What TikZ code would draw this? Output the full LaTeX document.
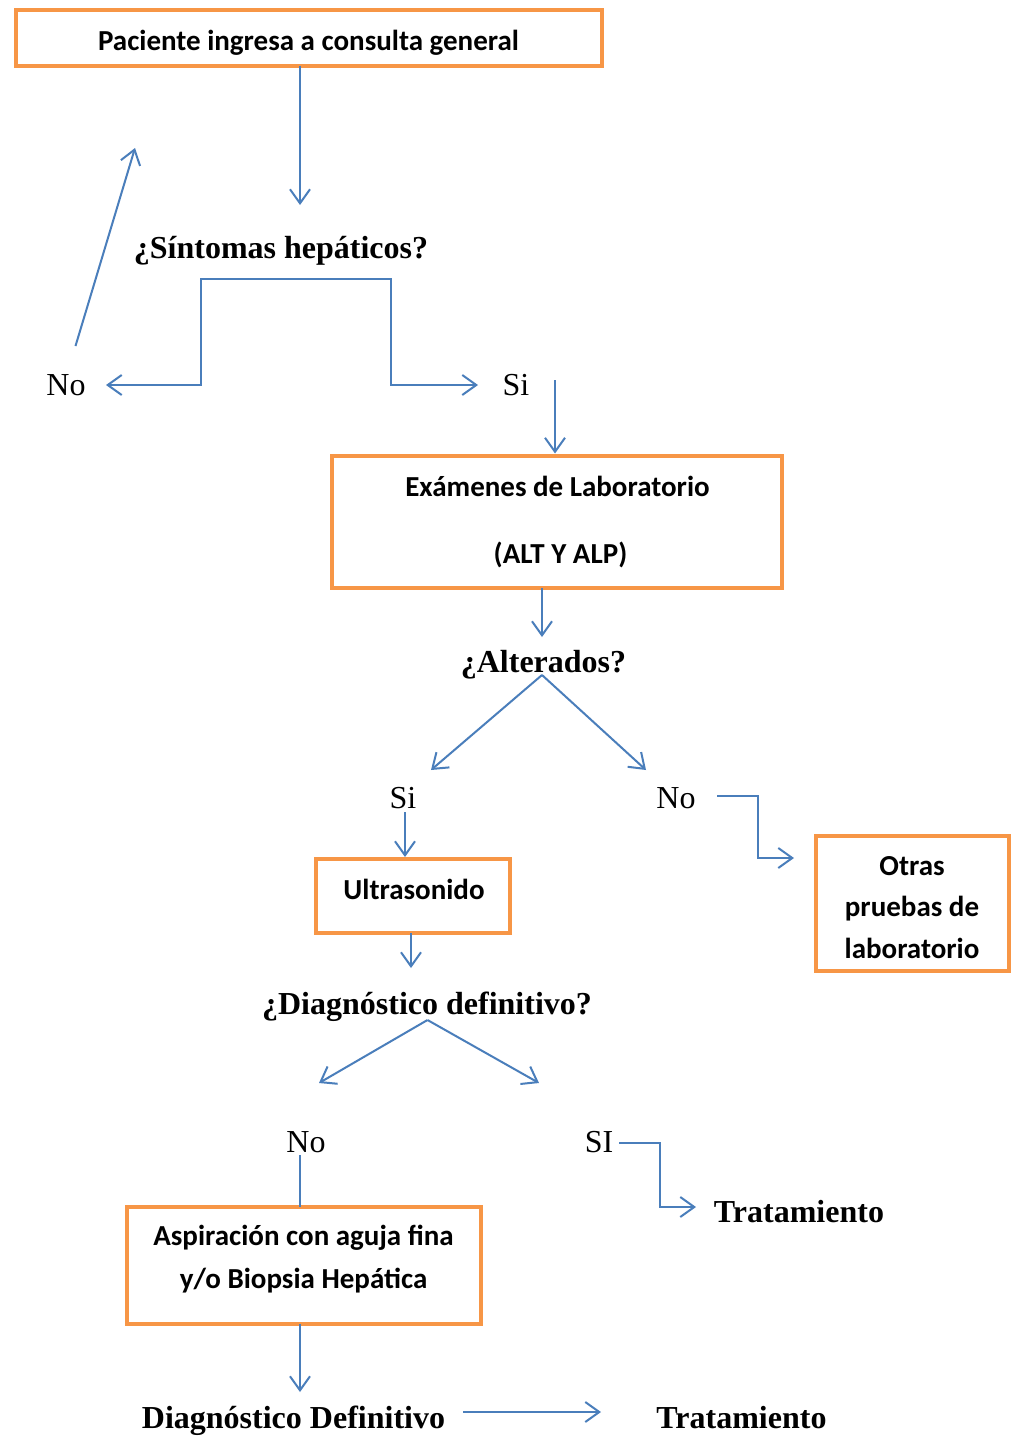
\documentclass[tikz,border=0pt]{standalone}
\usepackage{fontspec}
\setmainfont{Liberation Serif}
\newfontfamily\boxfnt{Carlito}
\usetikzlibrary{arrows.meta}
\definecolor{boxorange}{HTML}{F79646}
\definecolor{lineblue}{HTML}{4A7EBB}
\begin{document}
\begin{tikzpicture}[x=1pt,y=-1pt,
  box/.style={draw=boxorange,line width=4pt,fill=white,inner sep=0pt,outer sep=0pt},
  btxt/.style={anchor=base,inner sep=0pt,font=\boxfnt\bfseries\fontsize{29}{35}\selectfont},
  qtxt/.style={anchor=base,inner sep=0pt,font=\bfseries\fontsize{32}{38}\selectfont},
  ltxt/.style={anchor=base,inner sep=0pt,font=\fontsize{32}{38}\selectfont},
  conn/.style={draw=lineblue,line width=2pt},
  arr/.style={conn,-{Straight Barb[length=14pt,width=20pt]}}]
\useasboundingbox (0,0) rectangle (1013,1438);
\fill[white] (0,0) rectangle (1013,1438);

% boxes
\node[box,minimum width=586pt,minimum height=55.5pt] (b1) at (309,37.75) {};
\node[box,minimum width=450pt,minimum height=132.5pt] (b2) at (557,521.75) {};
\node[box,minimum width=194pt,minimum height=74pt] (b3) at (413,896) {};
\node[box,minimum width=193pt,minimum height=135pt] (b4) at (912.5,903.5) {};
\node[box,minimum width=354pt,minimum height=117pt] (b5) at (304,1265.5) {};

% box texts
\node[btxt] (t1) at (308.5,50) {Paciente ingresa a consulta general};
\node[btxt] (t2a) at (557.5,496) {Exámenes de Laboratorio};
\node[btxt] (t2b) at (560.5,563) {(ALT Y ALP)};
\node[btxt] (t3) at (414,899) {Ultrasonido};
\node[btxt] (t4a) at (912,875) {Otras};
\node[btxt] (t4b) at (912,916) {pruebas de};
\node[btxt] (t4c) at (912,958) {laboratorio};
\node[btxt] (t5a) at (303.5,1245) {Aspiración con aguja fina};
\node[btxt] (t5b) at (303.5,1288) {y/o Biopsia Hepática};

% questions and labels
\node[qtxt] (q1) at (281,258) {¿Síntomas hepáticos?};
\node[ltxt] (no1) at (66,395) {No};
\node[ltxt] (si1) at (516,395) {Si};
\node[qtxt] (q2) at (543.5,672) {¿Alterados?};
\node[ltxt] (si2) at (403,808) {Si};
\node[ltxt] (no2) at (676,808) {No};
\node[qtxt] (q3) at (427,1014) {¿Diagnóstico definitivo?};
\node[ltxt] (no3) at (306,1152) {No};
\node[ltxt] (si3) at (599,1152) {SI};
\node[qtxt] (tr1) at (799,1222) {Tratamiento};
\node[qtxt] (dd) at (293.5,1428) {Diagnóstico Definitivo};
\node[qtxt] (tr2) at (741.5,1428) {Tratamiento};

% coordinates
\coordinate (c1) at (300,205);
\coordinate (j1) at (300,279);
\coordinate (tipNo1) at (106,385);
\coordinate (tipSi1) at (478,385);
\coordinate (retS) at (75.5,346);
\coordinate (retE) at (135,148);
\coordinate (si1s) at (555,380);
\coordinate (c2) at (542,637);
\coordinate (ap2) at (542,675);
\coordinate (tipL2) at (431,770);
\coordinate (tipR2) at (646,770);
\coordinate (si2s) at (405,812);
\coordinate (no2s) at (717,796);
\coordinate (tipNo2) at (794,858);
\coordinate (c3) at (411,968);
\coordinate (ap3) at (427.5,1020);
\coordinate (tipL3) at (319,1083);
\coordinate (tipR3) at (539,1083);
\coordinate (no3s) at (300,1155);
\coordinate (si3s) at (619,1143);
\coordinate (tipSi3) at (696,1207);
\coordinate (c5) at (300,1392);
\coordinate (dds) at (463,1412);
\coordinate (dde) at (601,1412);

% connectors
\draw[arr] (c1 |- b1.south) -- (c1);
\draw[arr] (j1) -- (201,279) -- (201,385) -- (tipNo1);
\draw[arr] (j1) -- (391,279) -- (391,385) -- (tipSi1);
\draw[arr] (retS) -- (retE);
\draw[arr,shorten >=2pt] (si1s) -- (si1s |- b2.north);
\draw[arr] (c2 |- b2.south) -- (c2);
\draw[arr] (ap2) -- (tipL2);
\draw[arr] (ap2) -- (tipR2);
\draw[arr,shorten >=2pt] (si2s) -- (si2s |- b3.north);
\draw[arr] (no2s) -- (758,796) -- (758,858) -- (tipNo2);
\draw[arr] (c3 |- b3.south) -- (c3);
\draw[arr] (ap3) -- (tipL3);
\draw[arr] (ap3) -- (tipR3);
\draw[conn] (no3s) -- (no3s |- b5.north);
\draw[arr] (si3s) -- (660,1143) -- (660,1207) -- (tipSi3);
\draw[arr] (c5 |- b5.south) -- (c5);
\draw[arr] (dds) -- (dde);
\end{tikzpicture}
\end{document}
